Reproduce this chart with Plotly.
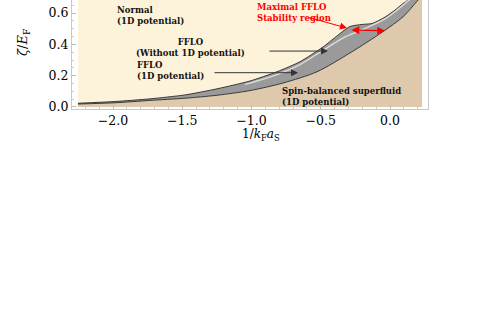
import plotly.graph_objects as go

# ---- data ----
# data region of the phase diagram
region_x = [-2.253, 0.231]
region_y = [0.0, 0.76]

# upper FFLO boundary (Normal / FFLO, 1D potential)
upper_x = [-2.253, -1.986, -1.733, -1.480, -1.249, -1.011, -0.816, -0.650, -0.484,
           -0.361, -0.289, -0.202, -0.130, -0.036, 0.036, 0.094, 0.130, 0.173]
upper_y = [0.024, 0.035, 0.052, 0.077, 0.116, 0.166, 0.225, 0.289, 0.383,
           0.469, 0.514, 0.527, 0.533, 0.574, 0.619, 0.661, 0.683, 0.721]

# lower FFLO boundary (FFLO / spin-balanced superfluid)
lower_x = [-2.253, -1.986, -1.733, -1.480, -1.249, -1.011, -0.773, -0.527, -0.289,
           -0.051, 0.094, 0.202, 0.231]
lower_y = [0.019, 0.027, 0.042, 0.056, 0.075, 0.105, 0.153, 0.225, 0.345,
           0.481, 0.576, 0.683, 0.712]

# thin FFLO sliver without 1D potential
sliver_x = [-1.047, -0.816, -0.650, -0.484, -0.325, -0.166, -0.036, 0.051, 0.116, 0.173]
sliver_y = [0.144, 0.207, 0.271, 0.361, 0.447, 0.507, 0.562, 0.619, 0.667, 0.708]

x_ticks = [-2.0, -1.5, -1.0, -0.5, 0.0]
y_ticks = [0.0, 0.2, 0.4, 0.6]
x_range = [-2.296, 0.274]
y_range = [-0.0128, 0.683]

# label anchors (data coordinates)
normal_pos = (-1.986, 0.665)      # top-left anchor
fflo_wo_pos = (-1.444, 0.380)
fflo_1d_pos = (-1.841, 0.230)
sbsf_pos = (-0.794, 0.070)
maxreg_pos = (-0.975, 0.680)      # top-left anchor
arrow_wo = ((-0.881, 0.357), (-0.448, 0.357))
arrow_1d = ((-1.278, 0.219), (-0.664, 0.219))
arrow_red = ((-0.599, 0.574), (-0.311, 0.504))
arrow_red_double = ((-0.289, 0.491), (-0.036, 0.487))

CREAM = "#FDF3DA"
TAN = "#DEC9AC"
GRAY = "#9A9A9A"
DARK = "#2a2a2a"
FONT = "DejaVu Serif"

fig = go.Figure()

# normal phase background
fig.add_trace(go.Scatter(
    x=[region_x[0], region_x[1], region_x[1], region_x[0], region_x[0]],
    y=[region_y[0], region_y[0], region_y[1], region_y[1], region_y[0]],
    mode="lines", fill="toself", fillcolor=CREAM, line=dict(width=0),
    hoverinfo="skip", showlegend=False))

# spin-balanced superfluid (below lower boundary)
fig.add_trace(go.Scatter(
    x=lower_x, y=lower_y, mode="lines", fill="tozeroy", fillcolor=TAN,
    line=dict(width=0, shape="spline", smoothing=0.8),
    hoverinfo="skip", showlegend=False))

# FFLO region between boundaries
fig.add_trace(go.Scatter(
    x=upper_x, y=upper_y, mode="lines", fill="tonexty", fillcolor=GRAY,
    line=dict(width=0, shape="spline", smoothing=0.6),
    hoverinfo="skip", showlegend=False))

# outlines
fig.add_trace(go.Scatter(
    x=lower_x, y=lower_y, mode="lines",
    line=dict(width=0.9, color=DARK, shape="spline", smoothing=0.8),
    hoverinfo="skip", showlegend=False))
fig.add_trace(go.Scatter(
    x=upper_x, y=upper_y, mode="lines",
    line=dict(width=0.9, color=DARK, shape="spline", smoothing=0.6),
    hoverinfo="skip", showlegend=False))
fig.add_trace(go.Scatter(
    x=sliver_x, y=sliver_y, mode="lines",
    line=dict(width=1.4, color="#DDDDDD", shape="spline", smoothing=0.8),
    hoverinfo="skip", showlegend=False))

lab_font = dict(family=FONT, size=8.5, color="#111111")
red_font = dict(family=FONT, size=8.5, color="#FF0000")

annotations = [
    dict(x=normal_pos[0], y=normal_pos[1], text="<b>Normal<br>(1D potential)</b>",
         xanchor="left", yanchor="top", align="left", showarrow=False, font=lab_font),
    dict(x=fflo_wo_pos[0], y=fflo_wo_pos[1], text="<b>FFLO<br>(Without 1D potential)</b>",
         xanchor="center", yanchor="middle", align="center", showarrow=False, font=lab_font),
    dict(x=fflo_1d_pos[0], y=fflo_1d_pos[1], text="<b>FFLO<br>(1D potential)</b>",
         xanchor="left", yanchor="middle", align="left", showarrow=False, font=lab_font),
    dict(x=sbsf_pos[0], y=sbsf_pos[1], text="<b>Spin-balanced superfluid<br>(1D potential)</b>",
         xanchor="left", yanchor="middle", align="left", showarrow=False, font=lab_font),
    dict(x=maxreg_pos[0], y=maxreg_pos[1], text="<b>Maximal FFLO<br>Stability region</b>",
         xanchor="left", yanchor="top", align="left", showarrow=False, font=red_font),
]

for (tail, head), col in [(arrow_wo, "#333333"), (arrow_1d, "#333333"), (arrow_red, "#FF0000")]:
    annotations.append(dict(x=head[0], y=head[1], ax=tail[0], ay=tail[1],
                            xref="x", yref="y", axref="x", ayref="y", text="",
                            showarrow=True, arrowhead=2, arrowsize=1.4, arrowwidth=1,
                            arrowcolor=col))
annotations.append(dict(x=arrow_red_double[1][0], y=arrow_red_double[1][1],
                        ax=arrow_red_double[0][0], ay=arrow_red_double[0][1],
                        xref="x", yref="y", axref="x", ayref="y", text="",
                        showarrow=True, arrowhead=2, startarrowhead=2, arrowside="end+start",
                        arrowsize=1.3, startarrowsize=1.3, arrowwidth=1.2, arrowcolor="#FF0000"))

# axis titles
annotations.append(dict(x=-0.1376, y=0.6055, xref="paper", yref="paper",
                        text="<i>ζ</i>/<i>E</i><sub>F</sub>", textangle=-90,
                        showarrow=False, xanchor="center", yanchor="middle",
                        font=dict(family=FONT, size=13, color="black")))
annotations.append(dict(x=0.531, y=-0.236, xref="paper", yref="paper",
                        text="1/<i>k</i><sub>F</sub><i>a</i><sub>S</sub>",
                        showarrow=False, xanchor="center", yanchor="middle",
                        font=dict(family=FONT, size=12, color="black")))

axis_common = dict(showline=True, linecolor="#C8C8C8", linewidth=1, ticks="inside",
                   tickcolor="#BBBBBB", ticklen=4, tickwidth=1, showgrid=False,
                   zeroline=False, automargin=False, tickformat=".1f",
                   tickfont=dict(family=FONT, size=12.5, color="black"))

fig.update_layout(
    width=487, height=332,
    margin=dict(l=72, r=59, t=0, b=223),
    paper_bgcolor="white", plot_bgcolor="white",
    showlegend=False,
    xaxis=dict(range=x_range, tickvals=x_ticks, mirror=False, ticklabelstandoff=0,
               minor=dict(ticks="inside", ticklen=2, dtick=0.1, tickcolor="#CCCCCC"),
               **axis_common),
    yaxis=dict(range=y_range, tickvals=y_ticks, mirror=True,
               minor=dict(ticks="inside", ticklen=2, dtick=0.05, tickcolor="#CCCCCC"),
               **axis_common),
    annotations=annotations,
)

fig.write_html("out.html", config={"displayModeBar": False},
               post_script="document.body.style.margin='0';document.body.style.padding='0';")
